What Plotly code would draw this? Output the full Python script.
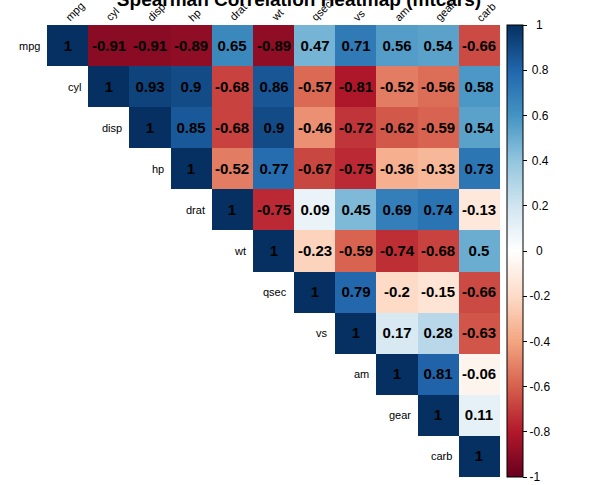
import plotly.graph_objects as go

variables = ["mpg", "cyl", "disp", "hp", "drat", "wt", "qsec", "vs", "am", "gear", "carb"]

# upper-triangle Spearman correlations, row by row (starting at the diagonal)
r_mpg  = [1, -0.91, -0.91, -0.89, 0.65, -0.89, 0.47, 0.71, 0.56, 0.54, -0.66]
r_cyl  = [1, 0.93, 0.9, -0.68, 0.86, -0.57, -0.81, -0.52, -0.56, 0.58]
r_disp = [1, 0.85, -0.68, 0.9, -0.46, -0.72, -0.62, -0.59, 0.54]
r_hp   = [1, -0.52, 0.77, -0.67, -0.75, -0.36, -0.33, 0.73]
r_drat = [1, -0.75, 0.09, 0.45, 0.69, 0.74, -0.13]
r_wt   = [1, -0.23, -0.59, -0.74, -0.68, 0.5]
r_qsec = [1, 0.79, -0.2, -0.15, -0.66]
r_vs   = [1, 0.17, 0.28, -0.63]
r_am   = [1, 0.81, -0.06]
r_gear = [1, 0.11]
r_carb = [1]
upper_rows = [r_mpg, r_cyl, r_disp, r_hp, r_drat, r_wt, r_qsec, r_vs, r_am, r_gear, r_carb]

cbar_vals = [-1, -0.8, -0.6, -0.4, -0.2, 0, 0.2, 0.4, 0.6, 0.8, 1]
cbar_text = ["-1", "-0.8", "-0.6", "-0.4", "-0.2", "0", "0.2", "0.4", "0.6", "0.8", "1"]

n = len(variables)
z = []
txt = []
for i, row in enumerate(upper_rows):
    z.append([None] * i + list(row))
    txt.append([""] * i + [f"{v:g}" for v in row])

# visually centre the colorbar labels (R draws them centred)
NB = "\u00a0"
TH = "\u2009"
def pad_label(s):
    if s in ("1", "0"):
        return NB * 2 + s
    if not s.startswith("-"):
        return TH + s
    return s
cbar_labels = [pad_label(s) for s in cbar_text]

colorscale = [
    [0.0, "#67001F"], [0.1, "#B2182B"], [0.2, "#D6604D"], [0.3, "#F4A582"],
    [0.4, "#FDDBC7"], [0.5, "#FFFFFF"], [0.6, "#D1E5F0"], [0.7, "#92C5DE"],
    [0.8, "#4393C3"], [0.9, "#2166AC"], [1.0, "#053061"],
]

W, H = 598, 485
L, R, T, B = 47, 98, 25, 8
plot_w = W - L - R
plot_h = H - T - B
FONT = "Liberation Sans, Arial"

fig = go.Figure(go.Heatmap(
    z=z, x=variables, y=variables,
    text=txt, texttemplate="%{text}",
    textfont=dict(family=FONT, size=15, color="black", weight="bold"),
    colorscale=colorscale, zmin=-1, zmax=1,
    hoverongaps=False,
    colorbar=dict(
        x=(507 - L) / plot_w, xanchor="left", xpad=0,
        y=0.5, yanchor="middle", ypad=0,
        len=plot_h, lenmode="pixels",
        thickness=16, thicknessmode="pixels",
        outlinecolor="black", outlinewidth=1,
        tickvals=cbar_vals, ticktext=cbar_labels,
        ticks="outside", ticklen=4, tickcolor="black",
        tickfont=dict(family=FONT, size=12, color="black"),
    ),
))

annotations = []
for i, v in enumerate(variables):
    # column labels (rotated, above the grid)
    annotations.append(dict(
        x=i, y=-0.5, xref="x", yref="y", text=v, showarrow=False,
        textangle=-45, xanchor="left", yanchor="bottom",
        xshift=-8, yshift=-1,
        font=dict(family=FONT, size=11, color="black"),
    ))
    # row labels (left of the diagonal cell)
    annotations.append(dict(
        x=i - 0.5, y=i, xref="x", yref="y", text=v, showarrow=False,
        xanchor="right", yanchor="middle", xshift=-5,
        font=dict(family=FONT, size=11, color="black"),
    ))

fig.update_layout(
    width=W, height=H,
    margin=dict(l=L, r=R, t=T, b=B, pad=0, autoexpand=False),
    paper_bgcolor="white", plot_bgcolor="white",
    title=dict(
        text="<b>Spearman Correlation Heatmap (mtcars)</b>",
        x=0.5, xref="container", xanchor="center",
        y=1 - 6 / H, yref="container", yanchor="bottom",
        font=dict(family=FONT, size=19, color="black"),
    ),
    xaxis=dict(range=[-0.5, n - 0.5], showticklabels=False, showgrid=False,
               zeroline=False, ticks="", fixedrange=True),
    yaxis=dict(range=[n - 0.5, -0.5], showticklabels=False, showgrid=False,
               zeroline=False, ticks="", fixedrange=True),
    annotations=annotations,
    showlegend=False,
)

fig.write_html(
    "out.html",
    config={"displayModeBar": False},
    post_script="document.body.style.margin='0';document.body.style.overflow='hidden';",
)
